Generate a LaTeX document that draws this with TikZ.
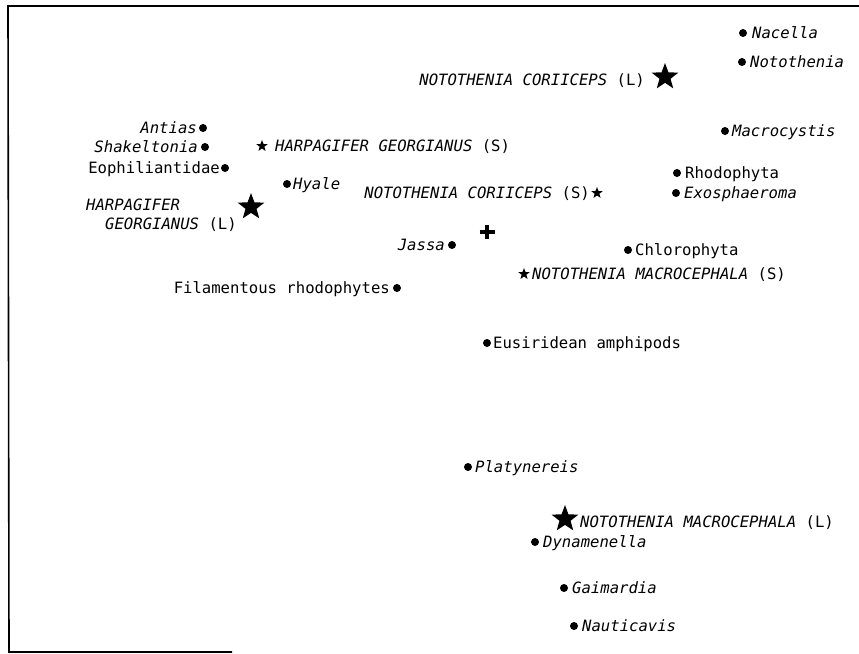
\documentclass[tikz,border=0pt]{standalone}
\usepackage{fontspec}
\setmainfont{DejaVu Sans Mono}
\usetikzlibrary{shapes.geometric,shapes.misc}
\tikzset{
  lbl/.style={inner sep=0pt, font=\fontsize{15.6}{18}\selectfont},
  dotmark/.style={circle, fill=black, inner sep=0pt, minimum size=8pt},
  smallstar/.style={star, star points=5, star point ratio=2.4, fill=black, inner sep=0pt, minimum size=12pt},
  bigstar/.style={star, star points=5, star point ratio=2.4, fill=black, inner sep=0pt, minimum size=28pt},
  plusmark/.style={cross out, draw=black, line width=3.6pt, rotate=45, inner sep=0pt, minimum size=7pt},
  frameline/.style={line width=1.6pt}
}
\begin{document}
\begin{tikzpicture}[x=1pt,y=-1pt]
\useasboundingbox (0,0) rectangle (859,653);
% frame
\coordinate (tl) at (8,6);
\coordinate (tr) at (859,6);
\coordinate (bl) at (9,652);
\coordinate (br) at (232,652);
\draw[frameline] (tr) -- (tl) -- (bl) -- (br);

% Nacella
\node[dotmark] (nacella) at (743,33) {};
\node[lbl, anchor=base west] (nacellaT) at (752,38) {\itshape Nacella};
% Notothenia
\node[dotmark] (notothenia) at (742,62) {};
\node[lbl, anchor=base west] (nototheniaT) at (750,67) {\itshape Notothenia};
% Notothenia coriiceps (L)
\node[bigstar] (ncL) at (665,77) {};
\node[lbl, anchor=base east] (ncLT) at (645,85) {{\itshape NOTOTHENIA CORIICEPS} (L)};
% Macrocystis
\node[dotmark] (macrocystis) at (725,131) {};
\node[lbl, anchor=base west] (macrocystisT) at (732,136) {\itshape Macrocystis};
% Antias
\node[dotmark] (antias) at (203,128) {};
\node[lbl, anchor=base east] (antiasT) at (197,133) {\itshape Antias};
% Shakeltonia
\node[dotmark] (shakeltonia) at (205,147) {};
\node[lbl, anchor=base east] (shakeltoniaT) at (198,152) {\itshape Shakeltonia};
% Harpagifer georgianus (S)
\node[smallstar] (hgS) at (262,146) {};
\node[lbl, anchor=base west] (hgST) at (275,151) {{\itshape HARPAGIFER GEORGIANUS} (S)};
% Eophiliantidae
\node[dotmark] (eophil) at (225,168) {};
\node[lbl, anchor=base east] (eophilT) at (220,173) {Eophiliantidae};
% Rhodophyta
\node[dotmark] (rhodo) at (677,173) {};
\node[lbl, anchor=base west] (rhodoT) at (685,178) {Rhodophyta};
% Hyale
\node[dotmark] (hyale) at (287,184) {};
\node[lbl, anchor=base west] (hyaleT) at (293,189) {\itshape Hyale};
% Notothenia coriiceps (S)
\node[smallstar] (ncS) at (597,193) {};
\node[lbl, anchor=base east] (ncST) at (590,198) {{\itshape NOTOTHENIA CORIICEPS} (S)};
% Exosphaeroma
\node[dotmark] (exo) at (676,193) {};
\node[lbl, anchor=base west] (exoT) at (684,198) {\itshape Exosphaeroma};
% Harpagifer georgianus (L)
\node[bigstar] (hgL) at (251,207) {};
\node[lbl, anchor=base west] (hgLT1) at (86,210) {\itshape HARPAGIFER};
\node[lbl, anchor=base west] (hgLT2) at (105,229) {{\itshape GEORGIANUS} (L)};
% centroid
\node[plusmark] (centroid) at (487,232) {};
% Jassa
\node[dotmark] (jassa) at (452,245) {};
\node[lbl, anchor=base east] (jassaT) at (445,250) {\itshape Jassa};
% Chlorophyta
\node[dotmark] (chloro) at (628,250) {};
\node[lbl, anchor=base west] (chloroT) at (635,255) {Chlorophyta};
% Notothenia macrocephala (S)
\node[smallstar] (nmS) at (524,274) {};
\node[lbl, anchor=base west] (nmST) at (532,279) {{\itshape NOTOTHENIA MACROCEPHALA} (S)};
% Filamentous rhodophytes
\node[dotmark] (filrho) at (397,288) {};
\node[lbl, anchor=base east] (filrhoT) at (390,293) {Filamentous rhodophytes};
% Eusiridean amphipods
\node[dotmark] (eusir) at (487,343) {};
\node[lbl, anchor=base west] (eusirT) at (493,348) {Eusiridean amphipods};
% Platynereis
\node[dotmark] (platy) at (468,467) {};
\node[lbl, anchor=base west] (platyT) at (475,472) {\itshape Platynereis};
% Notothenia macrocephala (L)
\node[bigstar] (nmL) at (565,519) {};
\node[lbl, anchor=base west] (nmLT) at (580,527) {{\itshape NOTOTHENIA MACROCEPHALA} (L)};
% Dynamenella
\node[dotmark] (dyna) at (535,542) {};
\node[lbl, anchor=base west] (dynaT) at (543,547) {\itshape Dynamenella};
% Gaimardia
\node[dotmark] (gaim) at (564,588) {};
\node[lbl, anchor=base west] (gaimT) at (572,593) {\itshape Gaimardia};
% Nauticavis
\node[dotmark] (naut) at (574,626) {};
\node[lbl, anchor=base west] (nautT) at (582,631) {\itshape Nauticavis};
\end{tikzpicture}
\end{document}
